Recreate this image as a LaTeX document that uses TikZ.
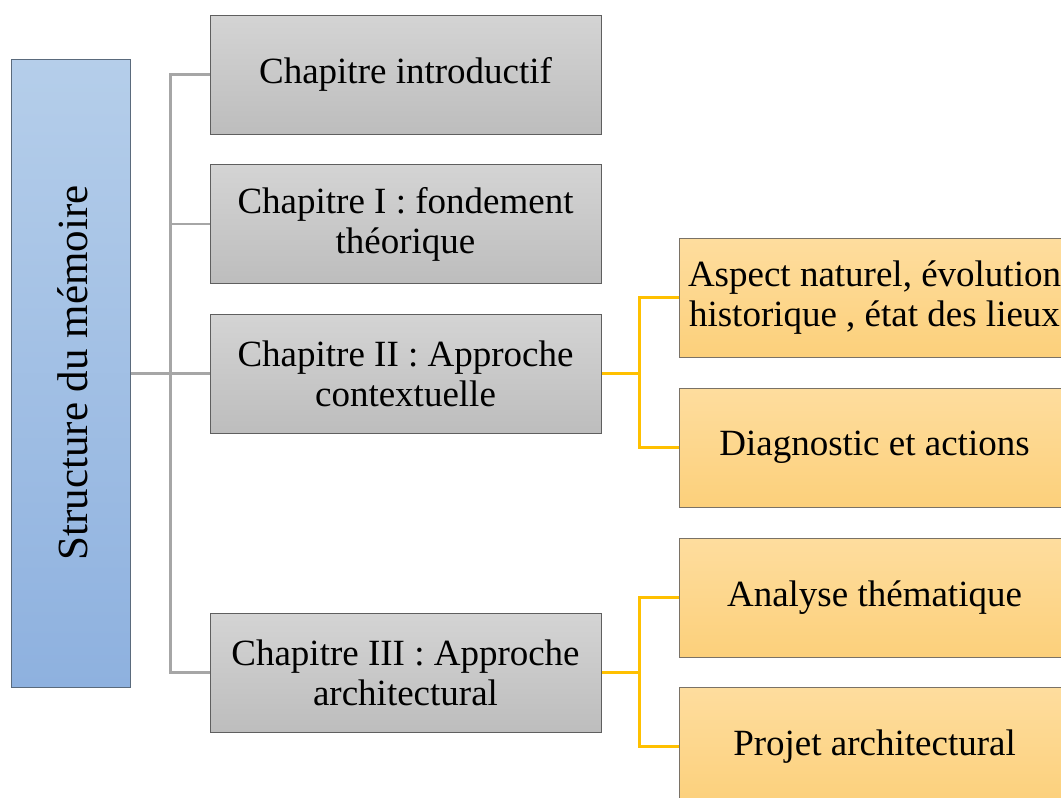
\documentclass[tikz,border=0pt]{standalone}
\usepackage{fontspec}
\setmainfont{Liberation Serif}
\definecolor{graytop}{HTML}{D4D4D4}
\definecolor{graybot}{HTML}{BDBDBD}
\definecolor{grayedge}{HTML}{5F5F5F}
\definecolor{orgtop}{HTML}{FEDD9E}
\definecolor{orgbot}{HTML}{FCD07B}
\definecolor{orgedge}{HTML}{7A7266}
\definecolor{bluetop}{HTML}{B5CEEA}
\definecolor{bluebot}{HTML}{8EB1DF}
\definecolor{blueedge}{HTML}{5A6A7C}
\definecolor{grayline}{HTML}{A6A6A6}
\definecolor{orgline}{HTML}{FFC000}
\tikzset{
  box/.style={minimum width=391pt, minimum height=119pt, inner sep=0pt, align=center,
    font=\fontsize{37}{40}\selectfont, line width=1pt},
  graybox/.style={box, draw=grayedge, top color=graytop, bottom color=graybot},
  orgbox/.style={box, draw=orgedge, top color=orgtop, bottom color=orgbot},
  grayconn/.style={draw=grayline, line width=2.5pt},
  orgconn/.style={draw=orgline, line width=2.5pt},
}
\begin{document}
\begin{tikzpicture}[x=1pt,y=-1pt]
\useasboundingbox (0,0) rectangle (1061,798);
\clip (0,0) rectangle (1061,798);
\fill[white] (0,0) rectangle (1061,798);
% root
\node[draw=blueedge, line width=1pt, top color=bluetop, bottom color=bluebot,
      minimum width=119pt, minimum height=628pt, inner sep=0pt] (root) at (70.5,373) {};
\node[rotate=90, font=\fontsize{43}{46}\selectfont] (roottxt) at ([xshift=2pt]root.center) {Structure du mémoire};
% chapters
\node[graybox] (g1) at (405.5,74.5) {Chapitre introductif};
\node[graybox] (g2) at (405.5,224) {Chapitre I : fondement\\théorique};
\node[graybox] (g3) at (405.5,373.5) {Chapitre II : Approche\\contextuelle};
\node[graybox] (g4) at (405.5,672.5) {Chapitre III : Approche\\architectural};
% sub parts
\node[orgbox] (o1) at (874.5,297.5) {Aspect naturel, évolution\\historique , état des lieux};
\node[orgbox] (o2) at (874.5,447.5) {Diagnostic et actions};
\node[orgbox] (o3) at (874.5,597.5) {Analyse thématique};
\node[orgbox] (o4) at (874.5,746.5) {Projet architectural};
% gray connectors
\coordinate (t1) at ([xshift=-39pt]g1.west);
\coordinate (t2) at ([xshift=-39pt]g2.west);
\coordinate (t4) at ([xshift=-39pt]g4.west);
\draw[grayconn] (g1.west) -- (t1) -- (t4) -- (g4.west);
\draw[grayconn] (g2.west) -- (t2);
\draw[grayconn] (root.east |- g3.west) -- (g3.west);
% orange connectors
\coordinate (u1) at ([xshift=-39pt]o1.west);
\coordinate (u2) at ([xshift=-39pt]o2.west);
\coordinate (u3) at ([xshift=-39pt]o3.west);
\coordinate (u4) at ([xshift=-39pt]o4.west);
\draw[orgconn] (o1.west) -- (u1) -- (u2) -- (o2.west);
\draw[orgconn] (g3.east) -- (u1 |- g3.east);
\draw[orgconn] (o3.west) -- (u3) -- (u4) -- (o4.west);
\draw[orgconn] (g4.east) -- (u3 |- g4.east);
\end{tikzpicture}
\end{document}
